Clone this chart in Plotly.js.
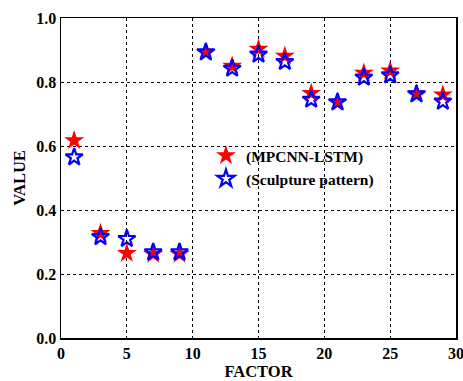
<!DOCTYPE html>
<html><head><meta charset="utf-8">
<script src="https://cdn.plot.ly/plotly-3.0.1.min.js"></script>
<style>body{margin:0;background:#fff}#chart{width:463px;height:381px}</style>
</head><body><div id="chart"></div>
<script>
const factor = [1,3,5,7,9,11,13,15,17,19,21,23,25,27,29];
const mpcnnLstm = [0.617,0.327,0.265,0.262,0.262,0.893,0.85,0.903,0.881,0.765,0.737,0.828,0.835,0.763,0.76];
const sculpture = [0.565,0.316,0.31,0.268,0.268,0.893,0.842,0.886,0.863,0.745,0.737,0.814,0.821,0.762,0.739];
const xTicks = [0,5,10,15,20,25,30];
const yTicks = [0,0.2,0.4,0.6,0.8,1.0];

const fam = '"Liberation Serif", "Times New Roman", serif';
const traces = [
  {x:factor, y:mpcnnLstm, mode:'markers', type:'scatter', name:'<b>(MPCNN-LSTM)</b>',
   marker:{symbol:'star', size:15, color:'#ff0000', line:{width:0}}},
  {x:factor, y:sculpture, mode:'markers', type:'scatter', name:'<b>(Sculpture pattern)</b>',
   marker:{symbol:'star-open', size:13, color:'#0000ff', line:{width:2.2, color:'#0000ff'}}}
];
const axisCommon = {showline:true, mirror:true, linecolor:'#000', linewidth:1.5,
  showgrid:true, gridcolor:'#000', griddash:'dot', gridwidth:1, zeroline:false,
  ticks:'', ticklabeloverflow:'allow', tickfont:{family:fam, size:16, color:'#000'}};
const layout = {
  width:463, height:381, margin:{l:61, r:7, t:18, b:43},
  paper_bgcolor:'#fff', plot_bgcolor:'#fff', font:{family:fam, size:14, color:'#000'}, showlegend:true,
  xaxis:Object.assign({}, axisCommon, {range:[0,30], tickvals:xTicks, ticktext:xTicks.map(v=>'<b>'+v+'</b>'),
    title:{text:'<b>FACTOR</b>', font:{family:fam, size:16.5}, standoff:6}}),
  yaxis:Object.assign({}, axisCommon, {range:[0,1], tickvals:yTicks, ticktext:yTicks.map(v=>'<b>'+v.toFixed(1)+'</b>'),
    title:{text:'<b>VALUE</b>', font:{family:fam, size:16.5}, standoff:6}}),
  legend:{x:0.367, y:0.622, xanchor:'left', yanchor:'top', bgcolor:'rgba(0,0,0,0)',
    font:{family:fam, size:15.5, color:'#000'}, itemsizing:'trace', tracegroupgap:0}
};
Plotly.newPlot('chart', traces, layout, {displayModeBar:false, staticPlot:true});
</script></body></html>
